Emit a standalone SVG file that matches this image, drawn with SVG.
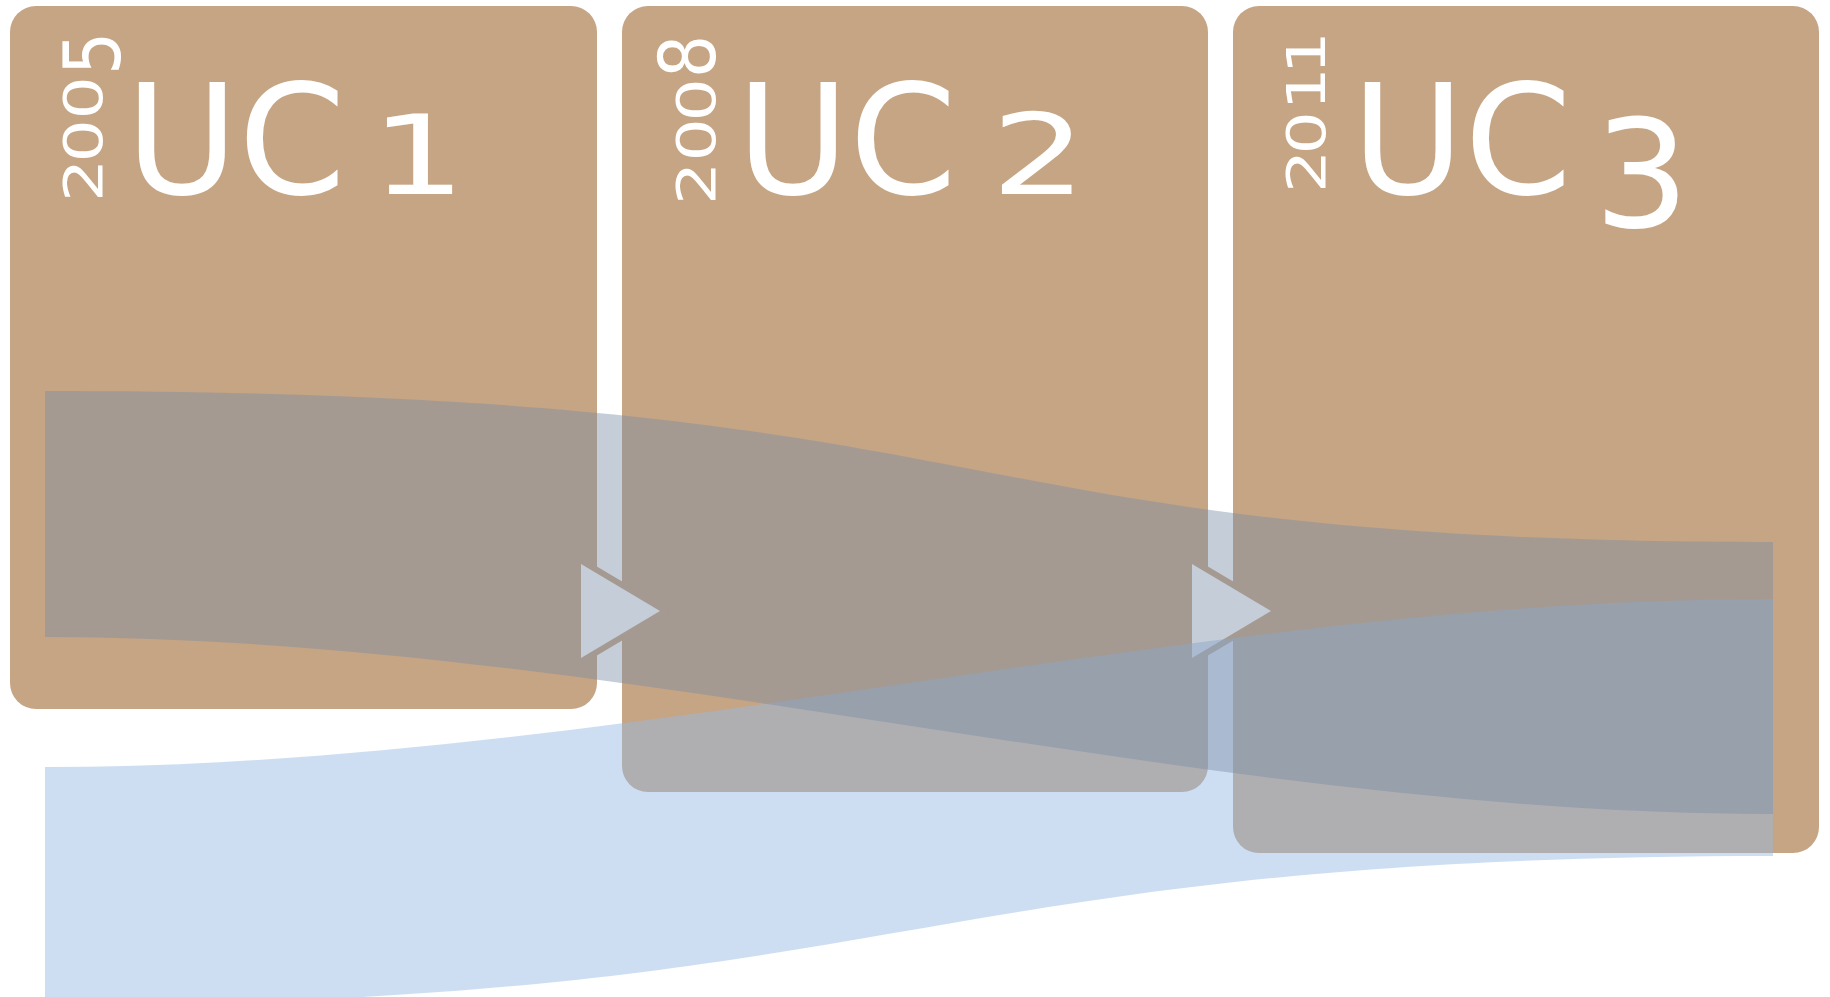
<svg xmlns="http://www.w3.org/2000/svg" width="1830" height="997" viewBox="0 0 1830 997">
  <style>
    .card { fill: #c6a584; }
    .lbl { font-family: "DejaVu Sans", "Liberation Sans", sans-serif; fill: #ffffff; }
    .uc { font-size: 154px; }
    .num { font-size: 150px; }
    .yr { font-size: 68px; }
    .arrow { fill: #ffffff; stroke: #c6a584; stroke-width: 12; stroke-linejoin: miter; paint-order: stroke; }
    .flow-a { fill: #7a8ca5; fill-opacity: 0.435; }
    .flow-b { fill: #97bae4; fill-opacity: 0.48; }
  </style>

  <rect width="1830" height="997" fill="#ffffff"/>

  <!-- stage cards -->
  <g id="uc1">
    <rect class="card" x="10" y="6" width="587" height="703" rx="26" ry="26"/>
    <g class="lbl yr" transform="translate(102,200) rotate(-90)">
      <text transform="scale(1,0.79)" x="-2 37.5 80.5" y="0">200</text>
      <text transform="translate(0,18) scale(1,1.15)" x="125" y="0">5</text>
    </g>
    <text class="lbl uc" x="125.6" y="194">UC</text>
    <text class="lbl num" transform="translate(370.5,194) scale(1,0.74)">1</text>
  </g>

  <g id="uc2">
    <rect class="card" x="622" y="6" width="586" height="786" rx="26" ry="26"/>
    <g class="lbl yr" transform="translate(715,200) rotate(-90)">
      <text transform="scale(1,0.79)" x="-5 38.5 78.5" y="0">200</text>
      <text transform="scale(1,1.15)" x="122" y="0">8</text>
    </g>
    <text class="lbl uc" x="736.6" y="194">UC</text>
    <text class="lbl num" transform="translate(991,194) scale(1,0.75)">2</text>
  </g>

  <g id="uc3">
    <rect class="card" x="1233" y="6" width="586" height="847" rx="26" ry="26"/>
    <g class="lbl yr" transform="translate(1325,200) rotate(-90)">
      <text transform="scale(1,0.79)" x="7 45.5 89.5 125.5" y="0">2011</text>
    </g>
    <text class="lbl uc" x="1351.6" y="194">UC</text>
    <text class="lbl num" x="1594" y="227">3</text>
  </g>

  <!-- transitions between stages -->
  <g id="connectors">
    <polygon class="arrow" points="581,564 581,658 660,611"/>
    <polygon class="arrow" points="1192,564 1192,658 1271,611"/>
    <path class="flow-b" d="M45,767 C621,767 1197,599 1773,599 L1773,856 C909,856 909,1005 45,1005 Z"/>
    <path class="flow-a" d="M45,391 C1044,391 904,542 1773,542 L1773,814 C1197,814 621,637 45,637 Z"/>
  </g>
</svg>
